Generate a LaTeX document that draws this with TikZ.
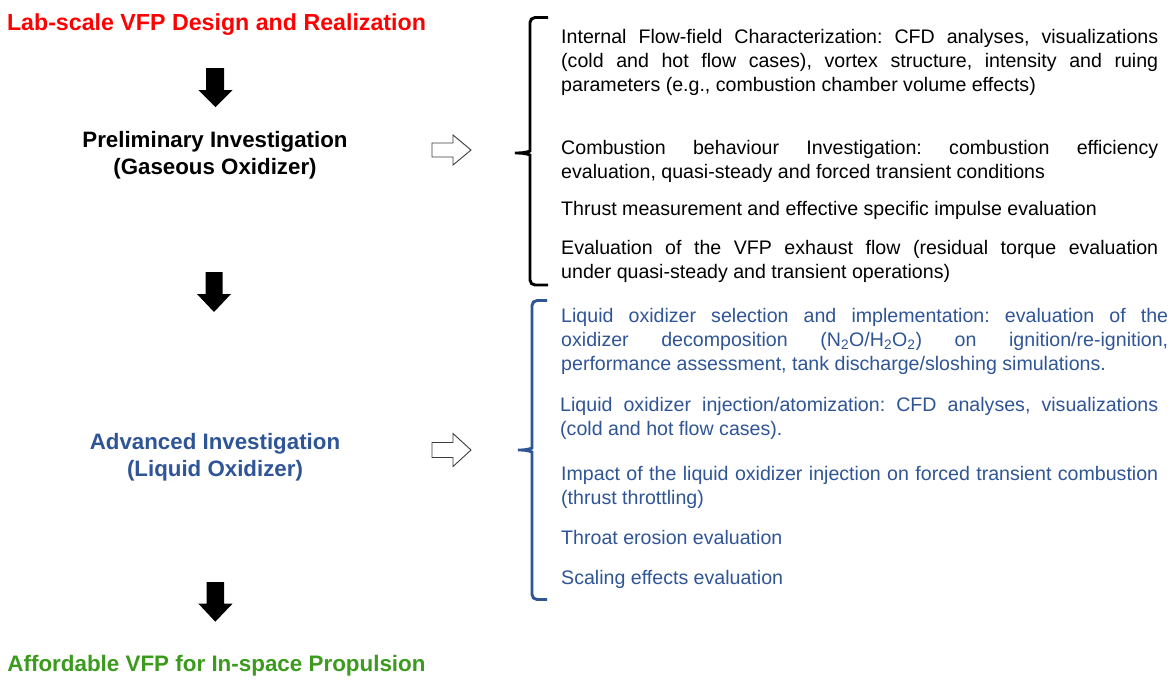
\documentclass[tikz,border=0pt]{standalone}
\usepackage{fontspec}
\setmainfont{Liberation Sans}
\definecolor{vfpred}{RGB}{255,0,0}
\definecolor{vfpgreen}{RGB}{60,155,30}
\definecolor{vfpblue}{RGB}{47,85,151}
\definecolor{hollowgray}{RGB}{60,60,60}
\hbadness=10000 \hfuzz=60pt
\newlength\jw
\newcommand\jl[1]{\hbox to\jw{\frenchspacing\spaceskip=\fontdimen2\font plus 1fil\xspaceskip=\spaceskip\vrule height15pt depth5pt width0pt #1}}
\newcommand\nl[1]{\hbox{\frenchspacing\vrule height15pt depth5pt width0pt #1}}
\tikzset{
  title/.style={font={\bfseries\fontsize{22.3}{26}\selectfont}, inner sep=0pt, anchor=base},
  body/.style={font={\fontsize{19.6}{24}\selectfont}, inner sep=0pt, anchor=north west},
  downarrow/.style={fill=black},
  hollow/.style={draw=hollowgray, line width=0.9pt, fill=white, line join=miter},
  brace/.style={line width=2.9pt, rounded corners=5pt},
}
\begin{document}
\begin{tikzpicture}[x=1pt, y=-1pt]
\useasboundingbox (0,0) rectangle (1175,686);
\fill[white] (0,0) rectangle (1175,686);

% left column
\node[title, font={\bfseries\fontsize{23.2}{27}\selectfont}, text=vfpred] (t0) at (216.5,30) {Lab-scale VFP Design and Realization};
\node[title] (p1) at (215,147) {Preliminary Investigation};
\node[title] (p2) at (215,174) {(Gaseous Oxidizer)};
\node[title, text=vfpblue] (a1) at (215,449.5) {Advanced Investigation};
\node[title, text=vfpblue] (a2) at (215,476.5) {(Liquid Oxidizer)};
\node[title, font={\bfseries\fontsize{22.4}{27}\selectfont}, text=vfpgreen] (f0) at (216.5,671.5) {Affordable VFP for In-space Propulsion};

% black down arrows
\fill[downarrow] (206,68) -- (224,68) -- (224,90) -- (232.7,90) -- (215.5,107) -- (198.3,90) -- (206,90) -- cycle;
\fill[downarrow] (205.5,272) -- (222.5,272) -- (222.5,294) -- (231,294) -- (214,312) -- (197,294) -- (205.5,294) -- cycle;
\fill[downarrow] (206.5,582) -- (224,582) -- (224,603.5) -- (232.7,603.5) -- (215.3,621.7) -- (198.3,603.5) -- (206.5,603.5) -- cycle;

% hollow arrows
\draw[hollow] (432,143) -- (453,143) -- (453,135) -- (471,150) -- (453,165) -- (453,157) -- (432,157) -- cycle;
\draw[hollow] (432,442.5) -- (453,442.5) -- (453,433.5) -- (471,450) -- (453,466.5) -- (453,457.5) -- (432,457.5) -- cycle;

% braces
\draw[brace, black] (548,17.5) -- (530,17.5) -- (530,146)
   .. controls (530,151) and (526,153) .. (512,153)
   .. controls (526,153) and (530,155) .. (530,160) -- (530,285) -- (548,285);
\draw[brace, vfpblue] (547,300.5) -- (532,300.5) -- (532,443)
   .. controls (532,448) and (528,450) .. (515,450)
   .. controls (528,450) and (532,452) .. (532,457) -- (532,599.5) -- (547,599.5);

% black text blocks
\setlength\jw{597pt}
\node[body] (b1) at (561,28.5) {\vbox{%
\jl{Internal Flow-field Characterization: CFD analyses, visualizations}%
\jl{(cold and hot flow cases), vortex structure, intensity and ruing}%
\nl{parameters (e.g., combustion chamber volume effects)}}};
\node[body] (b2) at (561,139.5) {\vbox{%
\jl{Combustion behaviour Investigation: combustion efficiency}%
\nl{evaluation, quasi-steady and forced transient conditions}}};
\node[body] (b3) at (561,200.5) {\vbox{%
\nl{Thrust measurement and effective specific impulse evaluation}}};
\node[body] (b4) at (561,239.5) {\vbox{%
\jl{Evaluation of the VFP exhaust flow (residual torque evaluation}%
\nl{under quasi-steady and transient operations)}}};

% blue text blocks
\setlength\jw{607pt}
\node[body, text=vfpblue] (c1) at (561,307.5) {\vbox{%
\jl{Liquid oxidizer selection and implementation: evaluation of the}%
\jl{oxidizer decomposition (N\textsubscript{2}O/H\textsubscript{2}O\textsubscript{2}) on ignition/re-ignition,}%
\nl{performance assessment, tank discharge/sloshing simulations.}}};
\setlength\jw{598pt}
\node[body, text=vfpblue] (c2) at (560,396.5) {\vbox{%
\jl{Liquid oxidizer injection/atomization: CFD analyses, visualizations}%
\nl{(cold and hot flow cases).}}};
\setlength\jw{597pt}
\node[body, text=vfpblue] (c3) at (561,465.5) {\vbox{%
\jl{Impact of the liquid oxidizer injection on forced transient combustion}%
\nl{(thrust throttling)}}};
\node[body, text=vfpblue] (c4) at (561,529) {\vbox{%
\nl{Throat erosion evaluation}}};
\node[body, text=vfpblue] (c5) at (561,569) {\vbox{%
\nl{Scaling effects evaluation}}};
\end{tikzpicture}
\end{document}
